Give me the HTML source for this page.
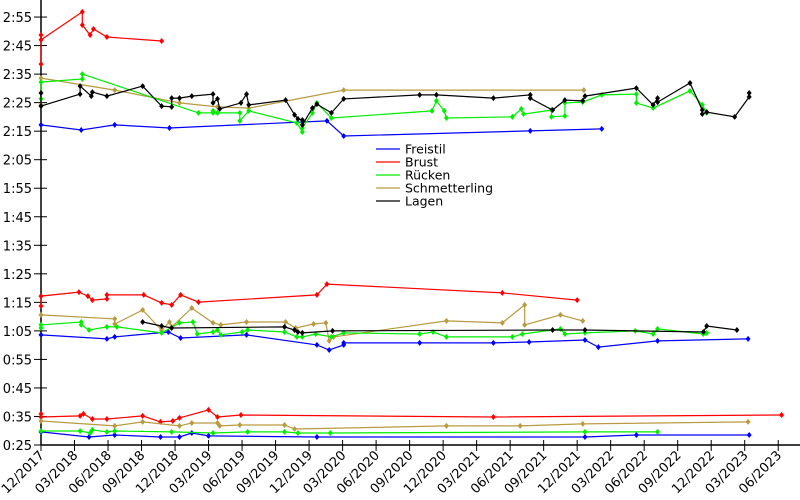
<!DOCTYPE html>
<html><head><meta charset="utf-8"><style>
html,body{margin:0;padding:0;background:#fff;}
svg{display:block;font-family:"DejaVu Sans","Liberation Sans",sans-serif;}
</style></head><body>
<svg id="chart" width="800" height="500" xmlns="http://www.w3.org/2000/svg"></svg>
<script>
// x values: months since 12/2017; y values: seconds
const xTickLabels = ["12/2017","03/2018","06/2018","09/2018","12/2018","03/2019","06/2019","09/2019","12/2019","03/2020","06/2020","09/2020","12/2020","03/2021","06/2021","09/2021","12/2021","03/2022","06/2022","09/2022","12/2022","03/2023","06/2023"];
const yTickSeconds = [25,35,45,55,65,75,85,95,105,115,125,135,145,155,165,175];
const legendNames = ["Freistil","Brust","Rücken","Schmetterling","Lagen"];

const freistil200M=[0,3.6,6.6,11.5,25.6,27.1,43.8,50.2];
const freistil200S=[137.2,135.4,137.2,136.1,138.6,133.3,135.1,135.8];
const freistil100M=[0,5.9,6.6,11.4,12.5,18.4,24.7,25.8,27.1,27.1,33.9,40.5,43.7,48.7,49.9,55.2,63.3];
const freistil100S=[63.6,62.2,62.9,64.6,62.5,63.6,60.1,58.3,60.1,60.8,60.8,60.8,61.1,61.8,59.3,61.5,62.2];
const freistil50M=[0,4.3,6.6,10.7,12.4,13.5,15.0,24.7,48.7,53.3,63.4];
const freistil50S=[29.6,27.8,28.5,27.8,27.8,29.2,28.2,27.8,27.8,28.5,28.5];

const brust200M=[0,0,0,3.7,3.7,4.4,4.7,5.9,10.8];
const brust200S=[158.5,168.7,167.0,176.8,172.2,168.7,170.8,168.0,166.6];
const brust100M=[0,0,3.4,4.2,4.6,5.9,5.9,9.2,10.8,11.7,12.5,14.1,24.7,25.6,41.3,48.0];
const brust100S=[73.7,77.2,78.6,77.2,75.8,76.2,77.6,77.6,74.8,74.1,77.6,75.1,77.6,81.4,78.3,75.8];
const brust50M=[0,0,3.5,3.8,4.6,5.9,9.1,10.7,11.8,12.4,15.0,15.8,17.9,40.5,66.3];
const brust50S=[35.9,34.8,35.2,35.9,34.1,34.1,35.2,33.1,33.4,34.5,37.3,34.8,35.5,34.8,35.5];

const ruecken200M=[0,0,3.7,3.7,14.1,15.4,15.4,15.8,17.8,17.8,18.6,22.9,23.4,23.4,24.3,24.7,26.0,35.0,35.4,36.1,36.3,42.2,43.0,43.2,45.7,45.7,46.9,46.9,48.5,50.2,53.3,53.3,54.8,58.1,59.2,59.6];
const ruecken200S=[146.3,152.2,153.3,155.0,141.4,141.4,142.1,141.4,141.4,138.6,142.1,137.9,134.7,136.1,141.4,144.9,139.6,142.1,145.6,142.1,139.6,140.0,142.8,141.0,142.4,140.0,140.3,144.9,145.2,147.7,148.0,144.9,143.1,149.1,144.2,141.4];
const ruecken100M=[0,0,3.6,3.6,4.3,5.9,6.8,10.8,12.4,13.6,14.0,15.4,15.8,16.1,18.0,18.5,21.8,22.9,23.4,24.6,26.0,27.1,33.9,35.1,36.3,42.2,43.1,46.5,46.9,48.7,53.2,54.8,55.2,59.3,59.6];
const ruecken100S=[66.0,67.1,68.1,67.1,65.3,66.4,66.4,64.3,67.8,68.1,63.9,64.6,65.3,63.6,64.6,65.3,64.6,62.9,62.9,63.9,62.9,64.3,63.9,64.6,62.9,62.9,63.9,65.7,63.9,64.3,65.0,63.9,65.7,63.9,64.3];
const ruecken50M=[0,3.5,4.4,4.6,5.9,6.6,11.7,15.4,18.5,21.8,23.0,25.9,48.7,55.2];
const ruecken50S=[29.9,29.9,29.2,30.3,29.6,29.9,29.6,29.2,29.6,29.6,29.2,29.2,29.6,29.6];

const schmetterling200M=[0,0,6.6,12.4,15.8,18.6,27.1,48.6];
const schmetterling200S=[144.2,153.6,149.4,144.9,143.5,143.1,149.4,149.4];
const schmetterling100M=[0,6.6,6.6,9.1,10.8,11.5,11.7,13.5,15.4,16.1,18.4,21.9,22.8,24.4,25.5,25.8,26.2,36.3,41.3,43.3,43.3,46.5,48.5];
const schmetterling100S=[70.6,69.2,67.4,72.3,65.3,68.1,66.4,73.0,67.8,67.1,68.1,68.1,66.0,67.4,67.8,61.5,62.9,68.5,67.8,74.1,67.1,70.6,68.5];
const schmetterling50M=[0,6.6,9.1,12.4,13.5,15.8,16.0,17.8,21.8,22.7,36.3,42.9,48.5,63.3];
const schmetterling50S=[33.4,31.7,33.1,31.7,32.7,32.7,31.7,32.0,32.0,30.6,31.7,31.7,32.4,33.1];

const lagen200M=[0,0,3.5,3.5,4.5,4.6,5.9,9.1,10.8,11.7,11.7,12.4,13.5,15.4,15.4,15.8,16.0,17.9,18.4,18.6,21.9,22.7,23.0,23.4,23.4,24.3,24.7,26.0,27.1,33.9,35.4,40.5,43.8,43.8,45.8,46.9,48.5,48.7,53.3,54.8,55.2,55.2,58.1,59.2,59.2,59.6,62.1,63.4,63.4];
const lagen200S=[148.4,143.8,148.0,150.8,147.3,148.7,147.3,150.8,143.8,143.5,146.6,146.6,147.3,148.0,144.9,146.3,142.8,144.9,148.0,144.2,145.9,140.7,139.3,138.9,137.2,143.1,144.5,141.4,146.3,147.7,147.7,146.6,147.7,146.6,142.4,145.9,145.6,147.3,150.1,144.2,146.6,145.2,151.9,142.4,141.0,141.7,140.0,147.0,148.4];
const lagen100M=[9.1,10.8,11.7,21.8,22.7,23.0,23.4,26.1,45.8,48.7,59.3,59.6,62.3];
const lagen100S=[68.1,66.7,66.0,66.4,65.3,64.6,64.3,65.0,65.3,65.3,64.6,66.7,65.3];

const X0=41, PX_PER_MONTH=11.17, Y0=445, PX_PER_SEC=2.853;
function xScale(m){return X0+m*PX_PER_MONTH;}
function yScale(s){return Y0-(s-25)*PX_PER_SEC;}
function fmt(s){const m=Math.floor(s/60),r=s%60;return m+":"+(r<10?"0":"")+r;}

const NS="http://www.w3.org/2000/svg";
const svg=document.getElementById("chart");
function mk(tag,attrs,parent){const e=document.createElementNS(NS,tag);for(const k in attrs)e.setAttribute(k,attrs[k]);(parent||svg).appendChild(e);return e;}

// axes
const yAxis=mk("line",{x1:X0,y1:0,x2:X0,y2:Y0,stroke:"#000","stroke-width":1.5});


const xAxis=mk("line",{x1:X0,y1:Y0,x2:800,y2:Y0,stroke:"#000","stroke-width":1.5});



yTickSeconds.forEach(s=>{
  const y=yScale(s);
  const t=mk("line",{x1:34,y1:y,x2:47,y2:y,stroke:"#000","stroke-width":1});
  
  
  const l=mk("text",{x:32,y:y+5,"text-anchor":"end","font-size":13,fill:"#000"});
  l.textContent=fmt(s);
  
  
});
xTickLabels.forEach((lab,i)=>{
  const x=xScale(i*3);
  const t=mk("line",{x1:x,y1:440,x2:x,y2:451,stroke:"#000","stroke-width":1});
  
  
  const l=mk("text",{x:x+4,y:456,"text-anchor":"end","font-size":13,fill:"#000",transform:"rotate(-45 "+(x+4)+" 456)"});
  l.textContent=lab;
  
  
});

const series=[
 {name:"freistil",color:"#0000ff",segs:[[freistil200M,freistil200S],[freistil100M,freistil100S],[freistil50M,freistil50S]]},
 {name:"brust",color:"#ff0000",segs:[[brust200M,brust200S],[brust100M,brust100S],[brust50M,brust50S]]},
 {name:"schmetterling",color:"#b89a40",segs:[[schmetterling200M,schmetterling200S],[schmetterling100M,schmetterling100S],[schmetterling50M,schmetterling50S]]},
 {name:"ruecken",color:"#00ee00",segs:[[ruecken200M,ruecken200S],[ruecken100M,ruecken100S],[ruecken50M,ruecken50S]]},
 {name:"lagen",color:"#000000",segs:[[lagen200M,lagen200S],[lagen100M,lagen100S]]}
];
series.forEach(sr=>{
  sr.segs.forEach(([M,S],k)=>{
    const pts=M.map((m,i)=>xScale(m).toFixed(1)+","+yScale(S[i]).toFixed(1)).join(" ");
    const pl=mk("polyline",{points:pts,fill:"none",stroke:sr.color,"stroke-width":1.2});
    
    
    M.forEach((m,i)=>{
      const x=xScale(m),y=yScale(S[i]);
      const d=mk("path",{d:"M"+x+" "+(y-3)+"L"+(x+2.5)+" "+y+"L"+x+" "+(y+3)+"L"+(x-2.5)+" "+y+"Z",fill:sr.color});
      
      
    });
  });
});

const legendColors=["#0000ff","#ff0000","#b89a40","#aaaaaa","#000000"];
const legendLineColors=["#0000ff","#ff0000","#00ee00","#b89a40","#000000"];
legendNames.forEach((n,i)=>{
  const y=149+i*13;
  const ln=mk("line",{x1:376,y1:y,x2:400,y2:y,stroke:legendLineColors[i],"stroke-width":1.2});
  
  
  const tx=mk("text",{x:405,y:y+4.5,"font-size":12.5,fill:"#000"});
  tx.textContent=n;
  
  
});
</script>
</body></html>
